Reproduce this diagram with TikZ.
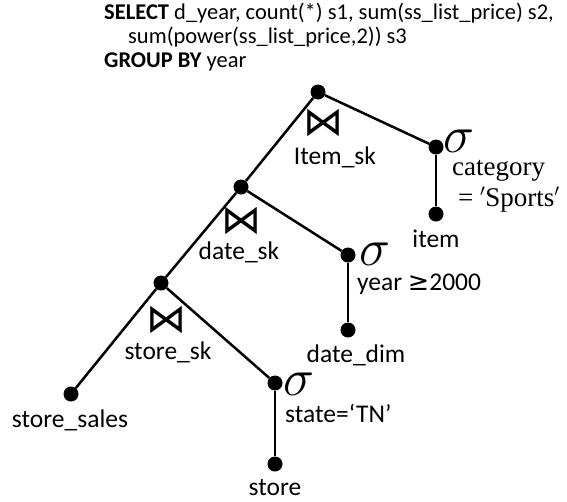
\documentclass[tikz,border=0pt]{standalone}
\usepackage{fontspec}
\setmainfont{Carlito}
\newfontfamily\symfont{DejaVu Sans}
\newfontfamily\condfont{Liberation Serif}
\begin{document}
\begin{tikzpicture}[x=1pt,y=-1pt,
  dot/.style={circle,fill=black,inner sep=0pt,minimum size=15pt},
  edge/.style={line width=2.5pt},
  hdr/.style={font=\fontsize{22.5}{24}\selectfont,inner sep=0pt,anchor=base west},
  lbl/.style={font=\fontsize{25.5}{28}\selectfont,inner sep=0pt,anchor=base},
  lbll/.style={font=\fontsize{25.5}{28}\selectfont,inner sep=0pt,anchor=base west},
  serl/.style={font=\condfont\fontsize{27}{30}\selectfont,inner sep=0pt,anchor=base west},
  sig/.style={font=\fontsize{24}{24}\selectfont,inner sep=0pt},
  joinsym/.style={font=\symfont\fontsize{40}{40}\selectfont,inner sep=0pt}]
\useasboundingbox (0,0) rectangle (567,501);
% header
\node[hdr] (h1) at (104,19) {\textbf{SELECT} d\_year, count(*) s1, sum(ss\_list\_price) s2,};
\node[hdr] (h2) at (128,43) {sum(power(ss\_list\_price,2)) s3};
\node[hdr] (h3) at (104,67) {\textbf{GROUP BY} year};
% dots
\node[dot] (j1) at (318,92) {};
\node[dot] (s1) at (436,147) {};
\node[dot] (it) at (436,214) {};
\node[dot] (j2) at (241,187) {};
\node[dot] (s2) at (348,255) {};
\node[dot] (dd) at (348,330) {};
\node[dot] (j3) at (161,283) {};
\node[dot] (ss) at (71,394) {};
\node[dot] (s3) at (275,383) {};
\node[dot] (st) at (275,464) {};
% edges
\draw[edge] (j1) -- (s1);
\draw[edge] (s1) -- (it);
\draw[edge] (j1) -- (j2);
\draw[edge] (j2) -- (s2);
\draw[edge] (s2) -- (dd);
\draw[edge] (j2) -- (j3);
\draw[edge] (j3) -- (ss);
\draw[edge] (j3) -- (s3);
\draw[edge] (s3) -- (st);
% join symbols and labels
\node[joinsym] (b1) at (323,123) {⋈};
\node[lbl] (l1) at (335,164) {Item\_sk};
\node[joinsym] (b2) at (241,221) {⋈};
\node[lbl] (l2) at (239,259) {date\_sk};
\node[joinsym] (b3) at (166,320) {⋈};
\node[lbl] (l3) at (168,359) {store\_sk};
% sigma symbols and conditions
\node[sig] (g1) at (459,141) {\scalebox{2.1}{$\sigma$}};
\node[serl] (c1a) at (452,175) {category};
\node[serl] (c1b) at (458,206) {= $'$Sports$'$};
\node[sig] (g2) at (375,254) {\scalebox{2.1}{$\sigma$}};
\node[lbll] (c2) at (357,290) {year {\symfont ≥}2000};
\node[sig] (g3) at (299,384) {\scalebox{2.1}{$\sigma$}};
\node[lbll] (c3) at (285,422) {state=‘TN’};
% leaves
\node[lbl] (t1) at (436,247) {item};
\node[lbl] (t2) at (356,362) {date\_dim};
\node[lbl] (t3) at (70,427) {store\_sales};
\node[lbl] (t4) at (275,495) {store};
\end{tikzpicture}
\end{document}
